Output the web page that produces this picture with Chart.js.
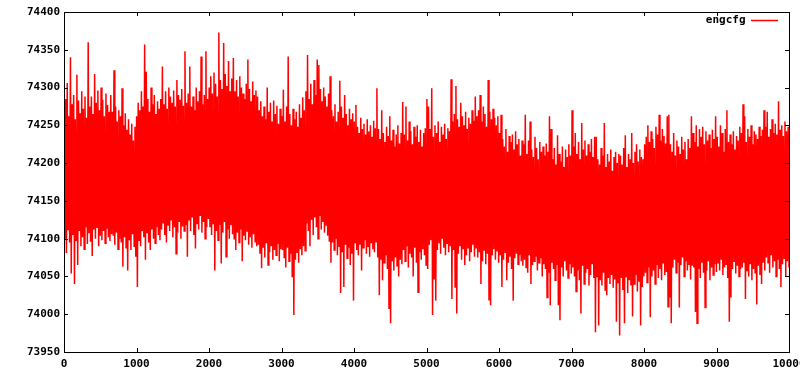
<!DOCTYPE html>
<html>
<head>
<meta charset="utf-8">
<script src="https://cdn.jsdelivr.net/npm/chart.js@4.4.1/dist/chart.umd.min.js"></script>
<style>
  html, body { margin: 0; padding: 0; background: #fff; }
  #wrap { width: 800px; height: 375px; }
</style>
</head>
<body>
<div id="wrap"><canvas id="chart" width="800" height="375"></canvas></div>
<script>
// engcfg samples, read off the plot slice by slice: the upper and lower
// reach of the trace in each narrow slice, 450 slices over 0..10000
// (one row = 15 slices, about 333 samples wide)
var highs = [
  74270, 74285, 74306, 74262, 74340, 74278, 74290, 74258, 74317, 74283, 74266, 74295, 74272, 74288, 74260,
  74360, 74275, 74288, 74265, 74318, 74280, 74296, 74270, 74300, 74284, 74262, 74292, 74277, 74268, 74290,
  74268, 74323, 74275, 74255, 74270, 74262, 74299, 74250, 74266, 74244, 74258, 74238, 74252, 74230, 74248,
  74262, 74280, 74270, 74295, 74275, 74357, 74321, 74285, 74268, 74300, 74278, 74290, 74265, 74282, 74272,
  74285, 74328, 74278, 74295, 74272, 74300, 74288, 74280, 74296, 74275, 74310, 74290, 74284, 74298, 74276,
  74348, 74280, 74292, 74328, 74275, 74288, 74270, 74300, 74282, 74295, 74341, 74278, 74290, 74348, 74285,
  74300, 74315, 74292, 74320, 74305, 74288, 74373, 74310, 74298, 74359, 74318, 74302, 74335, 74295, 74312,
  74339, 74295, 74310, 74288, 74315, 74300, 74292, 74285, 74305, 74337, 74298, 74282, 74308, 74290, 74296,
  74288, 74270, 74282, 74262, 74275, 74258, 74300, 74268, 74280, 74255, 74283, 74265, 74276, 74252, 74272,
  74262, 74297, 74255, 74275, 74341, 74265, 74250, 74272, 74258, 74268, 74248, 74278, 74260, 74287, 74270,
  74295, 74343, 74285, 74305, 74278, 74310, 74290, 74337, 74330, 74298, 74282, 74300, 74288, 74275, 74292,
  74315, 74270, 74262, 74278, 74255, 74268, 74309, 74275, 74260, 74290, 74265, 74250, 74272, 74258, 74266,
  74255, 74277, 74248, 74240, 74260, 74245, 74252, 74238, 74258, 74242, 74250, 74235, 74256, 74246, 74299,
  74245, 74232, 74270, 74240, 74228, 74248, 74236, 74262, 74230, 74244, 74222, 74238, 74250, 74226, 74240,
  74281, 74238, 74275, 74230, 74255, 74242, 74225, 74248, 74235, 74250, 74228, 74244, 74222, 74240, 74246,
  74285, 74275, 74245, 74299, 74235, 74250, 74240, 74255, 74228, 74248, 74238, 74252, 74232, 74246, 74242,
  74311, 74255, 74265, 74302, 74258, 74248, 74280, 74262, 74250, 74268, 74245, 74260, 74252, 74270, 74256,
  74288, 74262, 74270, 74290, 74255, 74275, 74265, 74248, 74310, 74268, 74258, 74272, 74260, 74250, 74262,
  74240, 74264, 74232, 74222, 74245, 74215, 74236, 74228, 74238, 74218, 74242, 74225, 74232, 74210, 74230,
  74225, 74264, 74212, 74230, 74255, 74218, 74208, 74235, 74220, 74205, 74228, 74215, 74222, 74210, 74226,
  74215, 74262, 74245, 74205, 74220, 74198, 74237, 74212, 74202, 74222, 74195, 74218, 74208, 74225, 74210,
  74270, 74222, 74240, 74212, 74228, 74205, 74253, 74218, 74230, 74210, 74225, 74215, 74232, 74208, 74235,
  74235, 74205, 74198, 74220, 74210, 74253, 74195, 74212, 74202, 74218, 74190, 74208, 74215, 74200, 74212,
  74210, 74198, 74220, 74237, 74195, 74212, 74205, 74240, 74200, 74215, 74225, 74202, 74218, 74208, 74205,
  74225, 74235, 74250, 74228, 74242, 74232, 74220, 74248, 74238, 74264, 74230, 74245, 74236, 74226, 74262,
  74264, 74225, 74215, 74240, 74210, 74230, 74222, 74212, 74235, 74218, 74228, 74205, 74232, 74220, 74262,
  74240, 74228, 74250, 74222, 74245, 74235, 74248, 74225, 74242, 74230, 74238, 74220, 74244, 74232, 74262,
  74235, 74222, 74250, 74240, 74215, 74245, 74270, 74228, 74238, 74225, 74242, 74218, 74236, 74230, 74248,
  74240, 74278, 74262, 74228, 74245, 74235, 74250, 74225, 74242, 74238, 74232, 74248, 74236, 74244, 74270,
  74248, 74268, 74235, 74245, 74258, 74240, 74252, 74238, 74282, 74244, 74250, 74236, 74255, 74242, 74248
];
var lows = [
  74100, 74081, 74112, 74095, 74054, 74105, 74040, 74098, 74065, 74110, 74090, 74102, 74086, 74115, 74093,
  74108, 74096, 74077, 74112, 74100, 74115, 74090, 74104, 74098, 74110, 74094, 74113, 74102, 74097, 74106,
  74104, 74092, 74108, 74086, 74100, 74095, 74063, 74102, 74088, 74058, 74098, 74085, 74106, 74090, 74076,
  74036, 74098, 74090, 74110, 74102, 74072, 74108, 74095, 74085, 74112, 74100, 74094, 74115, 74105, 74098,
  74112, 74120, 74105, 74095, 74118, 74110, 74124, 74102, 74115, 74080, 74108, 74122, 74100, 74116, 74110,
  74118, 74076, 74125, 74110, 74128, 74105, 74087, 74120, 74112, 74130, 74108, 74122, 74100, 74115, 74126,
  74115, 74105, 74120, 74058, 74110, 74098, 74118, 74067, 74108, 74122, 74076, 74112, 74100, 74118, 74106,
  74100, 74085, 74108, 74095, 74112, 74070, 74104, 74098, 74110, 74092, 74102, 74088, 74106, 74096, 74090,
  74092, 74080, 74061, 74088, 74075, 74094, 74065, 74082, 74090, 74072, 74085, 74078, 74093, 74070, 74086,
  74085, 74075, 74062, 74088, 74070, 74080, 74049, 73999, 74072, 74082, 74068, 74086, 74078, 74090, 74084,
  74120, 74110, 74090, 74125, 74105, 74128, 74115, 74100, 74130, 74112, 74122, 74108, 74118, 74104, 74096,
  74068, 74095, 74085, 74100, 74078, 74090, 74028, 74082, 74036, 74092, 74074, 74088, 74065, 74080, 74018,
  74095, 74085, 74078, 74092, 74058, 74088, 74098, 74080, 74090, 74076, 74094, 74086, 74082, 74096, 74075,
  74025, 74072, 74045, 74068, 74078, 74060, 74007, 73988, 74070, 74058, 74075, 74064, 74050, 74072, 74066,
  74085, 74070, 74090, 74062, 74080, 74075, 74050, 74088, 74068, 74029, 74082, 74072, 74086, 74078, 74065,
  74060, 74092, 74098, 73999, 74047, 74018, 74085, 74095, 74080, 74100, 74088, 74078, 74094, 74082, 74090,
  74020, 74085, 74036, 74001, 74080, 74090, 74072, 74086, 74065, 74078, 74088, 74070, 74082, 74092, 74076,
  74088, 74075, 74082, 74040, 74070, 74085, 74066, 74080, 74018, 74012, 74078, 74086, 74072, 74084, 74068,
  74078, 74036, 74072, 74082, 74045, 74068, 74076, 74060, 74018, 74074, 74080, 74066, 74078, 74070, 74064,
  74072, 74062, 74055, 74078, 74040, 74065, 74070, 74076, 74058, 74068, 74074, 74050, 74066, 74060, 74022,
  74055, 74012, 74068, 74060, 74045, 74065, 74012, 73992, 74062, 74050, 74070, 74058, 74048, 74066, 74054,
  74062, 74050, 74030, 74058, 74045, 74001, 74064, 74040, 74055, 74060, 74038, 74052, 74066, 74048, 73976,
  74050, 73985, 74045, 74038, 74055, 74032, 74025, 74048, 74040, 74052, 74035, 74046, 73990, 74042, 73972,
  74048, 74032, 73988, 74050, 74028, 74045, 74038, 73997, 74040, 74052, 74030, 74044, 73985, 74036, 74050,
  74055, 74042, 74062, 73996, 74050, 74058, 74040, 74065, 74048, 74060, 74045, 74068, 74052, 74056, 74010,
  74022, 73988, 74062, 74072, 74055, 74068, 74009, 74065, 74075, 74050, 74070, 74058, 74066, 74046, 74064,
  74062, 74003, 73988, 74060, 74048, 74068, 74055, 74009, 74058, 74070, 74045, 74062, 74052, 74066, 74056,
  74068, 74058, 74072, 74052, 74062, 74066, 74048, 73990, 74022, 74060, 74070, 74054, 74064, 74050, 74060,
  74062, 74068, 74020, 74058, 74050, 74066, 74045, 74060, 74055, 74013, 74064, 74052, 74040, 74068, 74058,
  74075, 74068, 74055, 74078, 74062, 74070, 74050, 74072, 74060, 74036, 74066, 74074, 74050, 74070, 74062
];
var xMax = 10000;
var xTicks = [0, 1000, 2000, 3000, 4000, 5000, 6000, 7000, 8000, 9000, 10000];
var yTicks = [73950, 74000, 74050, 74100, 74150, 74200, 74250, 74300, 74350, 74400];

// each slice contributes its high then its low, in sample order
var slices = Math.min(highs.length, lows.length);
var step = xMax / (slices * 2 - 1);
var points = [];
for (var k = 0; k < slices; k++) {
  points.push({ x: (2 * k) * step, y: highs[k] });
  points.push({ x: (2 * k + 1) * step, y: lows[k] });
}

var tickFont = { family: "'DejaVu Sans Mono', 'Liberation Mono', monospace", size: 11, weight: 'bold' };

// gnuplot style frame: box round the plot, ticks pointing inward on all sides
var frame = {
  id: 'frame',
  afterLayout: function(chart) {
    // key sits inside the plot, top right, like gnuplot's
    var lg = chart.legend, a = chart.chartArea;
    if (!lg) { return; }
    var w = lg.width, h = lg.height;
    lg.right = a.right - 7;
    lg.left = lg.right - w;
    lg.top = a.top - 1;
    lg.bottom = lg.top + h;
  },
  afterDatasetsDraw: function(chart) {
    var ctx = chart.ctx;
    var a = chart.chartArea;
    var xs = chart.scales.x, ys = chart.scales.y;
    var len = 4;
    ctx.save();
    ctx.strokeStyle = '#000';
    ctx.lineWidth = 1;
    ctx.beginPath();
    xTicks.forEach(function(v) {
      var px = Math.round(xs.getPixelForValue(v)) + 0.5;
      ctx.moveTo(px, a.bottom); ctx.lineTo(px, a.bottom - len);
      ctx.moveTo(px, a.top); ctx.lineTo(px, a.top + len);
    });
    yTicks.forEach(function(v) {
      var py = Math.round(ys.getPixelForValue(v)) + 0.5;
      ctx.moveTo(a.left, py); ctx.lineTo(a.left + len, py);
      ctx.moveTo(a.right, py); ctx.lineTo(a.right - len, py);
    });
    ctx.stroke();
    ctx.strokeRect(Math.round(a.left) + 0.5, Math.round(a.top) + 0.5,
                   Math.round(a.right - a.left), Math.round(a.bottom - a.top));
    ctx.restore();
  }
};

new Chart(document.getElementById('chart').getContext('2d'), {
  type: 'line',
  data: {
    datasets: [{
      label: 'engcfg',
      data: points,
      borderColor: '#ff0000',
      backgroundColor: '#ff0000',
      borderWidth: 1.5,
      pointRadius: 0,
      tension: 0,
      fill: false
    }]
  },
  options: {
    responsive: false,
    animation: false,
    devicePixelRatio: 1,
    layout: { autoPadding: false, padding: { left: 0, right: 11, top: 12, bottom: 0 } },
    plugins: {
      tooltip: { enabled: false },
      legend: {
        position: 'chartArea',
        align: 'start',
        rtl: true,
        labels: {
          usePointStyle: true,
          pointStyle: 'line',
          pointStyleWidth: 27,
          padding: 4,
          color: '#000',
          font: tickFont
        }
      }
    },
    scales: {
      x: {
        type: 'linear',
        min: 0,
        max: xMax,
        afterFit: function(s) { s.height = 23; s.paddingLeft = 0; s.paddingRight = 0; },
        afterBuildTicks: function(s) { s.ticks = xTicks.map(function(v) { return { value: v }; }); },
        grid: { display: false, drawTicks: false },
        border: { display: false },
        ticks: { color: '#000', font: tickFont, padding: 6, maxRotation: 0, autoSkip: false,
                 callback: function(v) { return String(v); } }
      },
      y: {
        type: 'linear',
        min: 73950,
        max: 74400,
        afterFit: function(s) { s.width = 64; s.paddingTop = 0; s.paddingBottom = 0; },
        afterBuildTicks: function(s) { s.ticks = yTicks.map(function(v) { return { value: v }; }); },
        grid: { display: false, drawTicks: false },
        border: { display: false },
        ticks: { color: '#000', font: tickFont, padding: 4,
                 callback: function(v) { return String(v); } }
      }
    }
  },
  plugins: [frame]
});
</script>
</body>
</html>
